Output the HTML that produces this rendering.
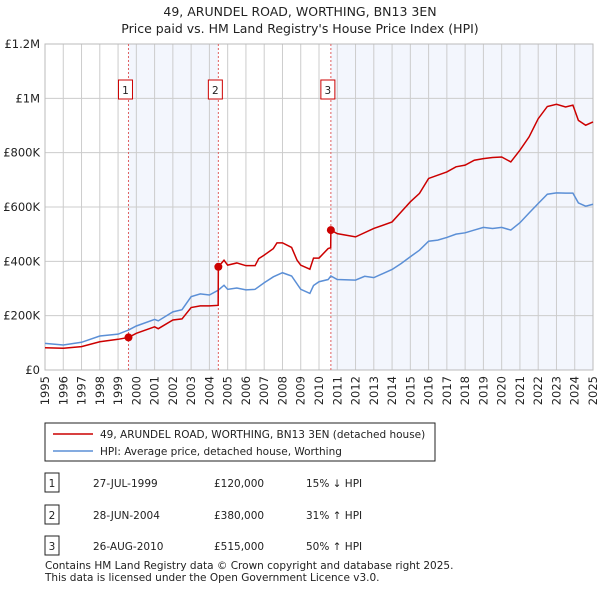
<!DOCTYPE html>
<html><head><meta charset="utf-8"><style>
body{margin:0;background:#fff;font-family:"Liberation Sans","DejaVu Sans",sans-serif}
svg text{font-family:"DejaVu Sans","Liberation Sans",sans-serif;fill:#222}
</style></head><body>
<svg id="c" width="600" height="590" viewBox="0 0 600 590">
<text x="300" y="16" text-anchor="middle" font-size="12.5">49, ARUNDEL ROAD, WORTHING, BN13 3EN</text>
<text x="300" y="33" text-anchor="middle" font-size="12.5">Price paid vs. HM Land Registry's House Price Index (HPI)</text>
<g id="plot"></g>
<rect x="45" y="423" width="390" height="38" fill="#fff" stroke="#222"/>
<line x1="53" y1="434" x2="93" y2="434" stroke="#cc0000" stroke-width="1.5"/>
<text x="100" y="438" font-size="10.5">49, ARUNDEL ROAD, WORTHING, BN13 3EN (detached house)</text>
<line x1="53" y1="451" x2="93" y2="451" stroke="#5b8fd6" stroke-width="1.5"/>
<text x="100" y="455" font-size="10.5">HPI: Average price, detached house, Worthing</text>
<g id="tbl" font-size="10.5"></g>
<text x="45" y="569" font-size="10.5" fill="#333">Contains HM Land Registry data © Crown copyright and database right 2025.</text>
<text x="45" y="581" font-size="10.5" fill="#333">This data is licensed under the Open Government Licence v3.0.</text>
</svg>
<script>
const hpiDates=[1995,1996,1997,1998,1999,1999.57,2000,2001,2001.2,2002,2002.5,2003,2003.5,2004,2004.49,2004.8,2005,2005.5,2006,2006.5,2007,2007.5,2008,2008.5,2009,2009.5,2009.7,2010,2010.5,2010.65,2011,2012,2012.5,2013,2014,2014.5,2015,2015.5,2016,2016.5,2017,2017.5,2018,2018.5,2019,2019.5,2020,2020.5,2021,2021.5,2022,2022.5,2023,2023.5,2023.9,2024.2,2024.6,2025];
const hpiValues=[98,92,102,125,132,147,162,186,181,214,222,270,280,276,294,312,297,302,295,297,321,343,358,346,297,282,311,325,333,346,333,331,345,340,370,392,417,441,474,478,488,500,505,515,525,521,525,515,542,578,613,647,652,651,651,615,603,610];
const priceDates=[1995,1996,1997,1998,1999,1999.57,2000,2001,2001.2,2002,2002.5,2003,2003.5,2004,2004.48,2004.49,2004.8,2005,2005.5,2006,2006.5,2006.7,2007,2007.5,2007.7,2008,2008.5,2008.8,2009,2009.5,2009.7,2010,2010.5,2010.64,2010.65,2011,2012,2013,2014,2014.5,2015,2015.5,2016,2016.5,2017,2017.5,2018,2018.5,2019,2019.5,2020,2020.5,2021,2021.5,2022,2022.5,2023,2023.5,2023.9,2024.2,2024.6,2025];
const priceValues=[82,80,86,104,113,120,135,159,152,184,188,230,236,236,238,380,404,386,394,384,384,410,423,447,468,468,451,404,386,371,412,412,447,450,515,502,490,521,545,582,619,650,705,717,729,748,754,772,778,782,784,766,809,858,925,970,978,968,975,919,901,913];
const saleDates=[1999.57,2004.49,2010.65];
const salePrices=[120,380,515];
const saleLabels=["1","2","3"];
const saleDateText=["27-JUL-1999","28-JUN-2004","26-AUG-2010"];
const salePriceText=["£120,000","£380,000","£515,000"];
const saleHpiText=["15% ↓ HPI","31% ↑ HPI","50% ↑ HPI"];
const yTicks=[0,200,400,600,800,1000,1200];
const yTickLabels=["£0","£200K","£400K","£600K","£800K","£1M","£1.2M"];
const xYears=[];for(let y=1995;y<=2025;y++)xYears.push(y);

const X0=45,X1=593,Y0=370,Y1=44;
const xs=t=>X0+(t-1995)/30*(X1-X0);
const ys=v=>Y0-v/1200*(Y0-Y1);
const NS="http://www.w3.org/2000/svg";
const plot=document.getElementById('plot');
function mk(tag,at,parent){const e=document.createElementNS(NS,tag);for(const k in at)e.setAttribute(k,at[k]);(parent||plot).appendChild(e);return e;}

let e;
e=mk('rect',{x:xs(saleDates[0]),y:Y1,width:xs(saleDates[1])-xs(saleDates[0]),height:Y0-Y1,fill:'#f3f6fd'});


e=mk('rect',{x:xs(saleDates[2]),y:Y1,width:X1-xs(saleDates[2]),height:Y0-Y1,fill:'#f3f6fd'});


xYears.forEach(y=>{
 e=mk('line',{x1:xs(y),x2:xs(y),y1:Y1,y2:Y0,stroke:'#ccc','stroke-width':1});
 
 
 e=mk('text',{transform:`translate(${xs(y)+4},376) rotate(-90)`,'text-anchor':'end','font-size':11.5});
 e.textContent=y;
 
 
});
yTicks.forEach((v,i)=>{
 e=mk('line',{x1:X0,x2:X1,y1:ys(v),y2:ys(v),stroke:'#ccc','stroke-width':1});
 
 
 e=mk('text',{x:40,y:ys(v)+4,'text-anchor':'end','font-size':11.5});
 e.textContent=yTickLabels[i];
 
 
});
e=mk('rect',{x:X0,y:Y1,width:X1-X0,height:Y0-Y1,fill:'none',stroke:'#bbb'});


saleDates.forEach((d,i)=>{
 e=mk('line',{x1:xs(d),x2:xs(d),y1:Y1,y2:Y0,stroke:'#e06060','stroke-dasharray':'2,2','stroke-width':1});
 
 
 e=mk('rect',{x:xs(d)-10,y:80,width:14,height:19,fill:'#fff',stroke:'#cc0000'});
 
 
 e=mk('text',{x:xs(d)-3,y:94,'text-anchor':'middle','font-size':10.5});
 e.textContent=saleLabels[i];
 
 
});
e=mk('polyline',{points:hpiDates.map((t,i)=>xs(t)+','+ys(hpiValues[i])).join(' '),fill:'none',stroke:'#5b8fd6','stroke-width':1.5});


e=mk('polyline',{points:priceDates.map((t,i)=>xs(t)+','+ys(priceValues[i])).join(' '),fill:'none',stroke:'#cc0000','stroke-width':1.5});


saleDates.forEach((d,i)=>{
 e=mk('circle',{cx:xs(d),cy:ys(salePrices[i]),r:4,fill:'#cc0000'});
 
 
});
const tbl=document.getElementById('tbl');
const rowY=[483,515,546];
saleLabels.forEach((l,i)=>{
 const y=rowY[i];
 e=mk('rect',{x:45,y:y-10,width:14,height:19,fill:'#fff',stroke:'#222'},tbl);
 
 
 e=mk('text',{x:52,y:y+4,'text-anchor':'middle'},tbl);e.textContent=l;
 
 
 e=mk('text',{x:93,y:y+4},tbl);e.textContent=saleDateText[i];
 
 
 e=mk('text',{x:214,y:y+4},tbl);e.textContent=salePriceText[i];
 
 
 e=mk('text',{x:306,y:y+4},tbl);e.textContent=saleHpiText[i];
 
 
});
</script>
</body></html>
